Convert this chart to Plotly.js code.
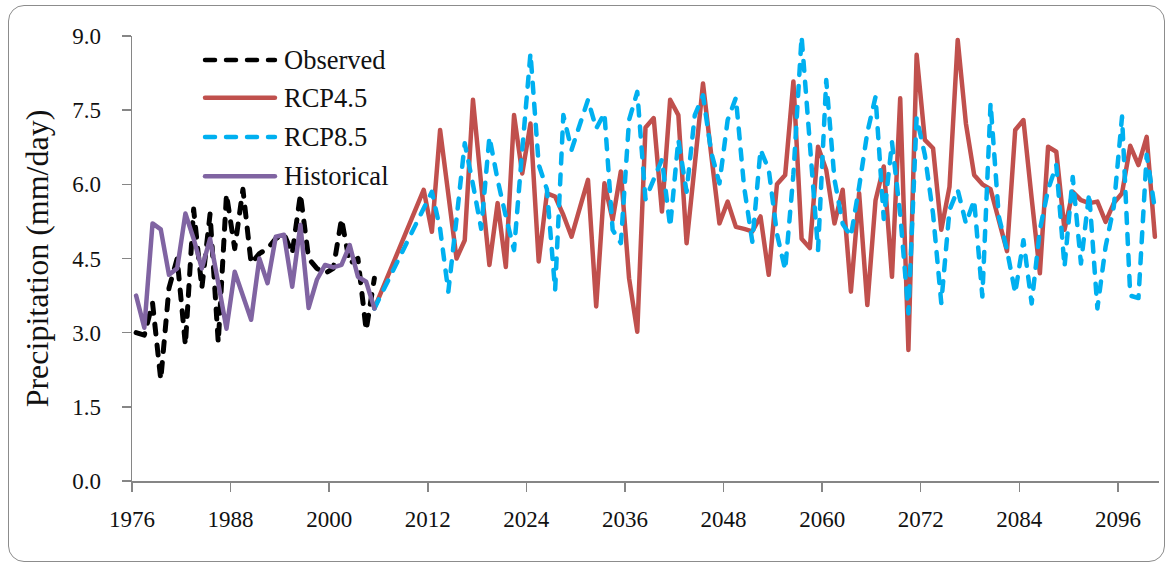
<!DOCTYPE html>
<html>
<head>
<meta charset="utf-8">
<script src="https://cdn.plot.ly/plotly-3.0.1.min.js"></script>
<style>
  html, body { margin: 0; padding: 0; background: #fff; }
  #wrap { position: relative; width: 1168px; height: 565px; }
  #chart { position: absolute; left: 0; top: 0; width: 1168px; height: 565px; }
  #frame {
    position: absolute; left: 8px; top: 5px; width: 1157px; height: 557px;
    box-sizing: border-box; border: 1.5px solid #8c8c8c; border-radius: 16px;
    pointer-events: none;
  }
  /* rounded ends and joins on the series lines and legend samples */
  #chart path.js-line, #chart .shapelayer path { stroke-linecap: round; stroke-linejoin: round; }
</style>
</head>
<body>
<div id="wrap"><div id="chart"></div><div id="frame"></div></div>
<script>
function yearSpan(first, last) {
  const out = [];
  for (let y = first; y <= last; y++) out.push(y);
  return out;
}

// ---- data: annual mean precipitation (mm/day) ----
const obsYears = yearSpan(1976, 2005);
const observed = [
  3.00, 2.95, 3.60, 2.05, 3.90, 4.50, 2.75, 5.50, 3.90, 5.40,
  2.80, 5.80, 4.70, 5.90, 4.40, 4.60, 4.70, 4.90, 5.00, 4.60,
  5.80, 4.50, 4.30, 4.20, 4.30, 5.30, 4.40, 4.50, 3.05, 4.10
];
const historical = [
  3.75, 3.10, 5.21, 5.09, 4.17, 4.30, 5.41, 4.90, 4.30, 4.90,
  4.00, 3.08, 4.23, 3.75, 3.26, 4.50, 4.00, 4.94, 4.98, 3.93,
  5.18, 3.50, 4.07, 4.37, 4.32, 4.37, 4.77, 4.13, 4.03, 3.49
];

// projections continue from the last historical year, then run 2011-2100
const projYears = [2005].concat(yearSpan(2011, 2100));
const rcp45 = [3.49,
  5.89, 5.04, 7.10, 5.80, 4.50, 4.87, 7.71, 6.00, 4.37, 5.62,
  4.33, 7.40, 6.22, 7.23, 4.44, 5.82, 5.75, 5.38, 4.94, 5.52,
  6.09, 3.53, 6.02, 5.28, 6.26, 4.10, 3.02, 7.15, 7.34, 5.45,
  7.71, 7.40, 4.81, 6.40, 8.04, 6.60, 5.21, 5.65, 5.14, 5.10,
  5.05, 5.35, 4.17, 6.00, 6.19, 8.08, 4.90, 4.71, 6.76, 6.29,
  5.21, 5.89, 3.83, 5.82, 3.56, 5.68, 6.36, 4.13, 7.74, 2.65,
  8.62, 6.90, 6.73, 5.08, 5.95, 8.92, 7.23, 6.19, 6.00, 5.90,
  5.30, 4.65, 7.10, 7.30, 5.72, 4.20, 6.76, 6.66, 5.08, 5.85,
  5.68, 5.62, 5.65, 5.24, 5.62, 5.82, 6.78, 6.39, 6.96, 4.94
];
const rcp85 = [3.49,
  5.50, 5.85, 5.10, 3.83, 5.30, 6.83, 6.00, 5.10, 6.96, 6.09,
  5.35, 4.67, 6.70, 8.65, 6.40, 5.90, 3.86, 7.40, 6.70, 7.20,
  7.71, 7.13, 7.44, 5.08, 4.81, 7.30, 7.87, 5.70, 6.10, 6.50,
  5.14, 6.90, 5.85, 7.40, 7.80, 6.65, 6.02, 7.30, 7.75, 5.95,
  4.84, 6.70, 6.30, 5.00, 4.27, 6.20, 8.99, 6.80, 4.67, 8.11,
  6.10, 5.20, 4.95, 5.95, 7.05, 7.77, 5.30, 6.85, 5.40, 3.39,
  7.35, 6.60, 5.40, 3.60, 5.48, 5.89, 5.21, 5.68, 3.73, 7.64,
  5.35, 4.67, 3.80, 4.87, 3.59, 5.08, 5.89, 6.39, 4.33, 6.15,
  4.40, 5.82, 3.49, 4.74, 5.55, 7.37, 3.75, 3.70, 6.60, 5.50
];

// axis labels
const xTickLabels = ['1976', '1988', '2000', '2012', '2024', '2036', '2048', '2060', '2072', '2084', '2096'];
const yTickValues = [0, 1.5, 3, 4.5, 6, 7.5, 9];
const seriesNames = ['Observed', 'RCP4.5', 'RCP8.5', 'Historical'];
const seriesColors = ['#000000', '#C0504D', '#00B0F0', '#8064A2'];
const seriesDash = ['10px,11px', 'solid', '10px,11px', 'solid'];

// ---- figure ----
const SERIF = 'Liberation Serif, Times New Roman, serif';
const LW = 4.5;

function lineTrace(k, xs, ys) {
  return {
    x: xs, y: ys, type: 'scatter', mode: 'lines', name: seriesNames[k],
    showlegend: false, hoverinfo: 'skip',
    line: { color: seriesColors[k], width: k === 0 ? 5 : LW, dash: seriesDash[k] }
  };
}

// Excel-style draw order: later series on top
const traces = [
  lineTrace(0, obsYears, observed),
  lineTrace(1, projYears, rcp45),
  lineTrace(2, projYears, rcp85),
  lineTrace(3, obsYears, historical)
];

// category-style axis: ticks sit on the boundary before each labelled year
const xTickVals = xTickLabels.map(t => Number(t) - 0.5);

// hand-built legend (long line samples)
const legendRowsY = [0.946, 0.861, 0.773, 0.685];
const shapes = [];
const annotations = [];
seriesNames.forEach((nm, k) => {
  shapes.push({
    type: 'line', xref: 'paper', yref: 'paper',
    x0: 0.0711, x1: 0.1392, y0: legendRowsY[k], y1: legendRowsY[k],
    line: { color: seriesColors[k], width: LW, dash: seriesDash[k] }
  });
  annotations.push({
    xref: 'paper', yref: 'paper', x: 0.146, y: legendRowsY[k],
    xanchor: 'left', yanchor: 'middle', showarrow: false, text: nm,
    font: { family: SERIF, size: 26.5, color: '#111' }
  });
});

const axisCommon = {
  showline: true, linecolor: '#868686', linewidth: 1.5,
  ticks: 'outside', ticklen: 9, tickwidth: 1.5, tickcolor: '#868686',
  showgrid: false, zeroline: false,
  tickfont: { family: SERIF, size: 23, color: '#111' }
};

const layout = {
  width: 1168, height: 565,
  margin: { l: 132, r: 9, t: 36, b: 84 },
  paper_bgcolor: '#ffffff', plot_bgcolor: '#ffffff',
  showlegend: false,
  xaxis: Object.assign({}, axisCommon, {
    range: [1975.5, 2100.5], tickmode: 'array',
    tickvals: xTickVals, ticktext: xTickLabels,
    ticklabelstandoff: 8
  }),
  yaxis: Object.assign({}, axisCommon, {
    range: [0, 9], tickmode: 'array', tickvals: yTickValues,
    tickformat: '.1f', ticklabelstandoff: 16,
    title: { text: 'Precipitation (mm/day)', font: { family: SERIF, size: 32, color: '#111' }, standoff: 14 }
  }),
  shapes: shapes,
  annotations: annotations
};

Plotly.newPlot('chart', traces, layout, { displayModeBar: false, staticPlot: true });
</script>
</body>
</html>
